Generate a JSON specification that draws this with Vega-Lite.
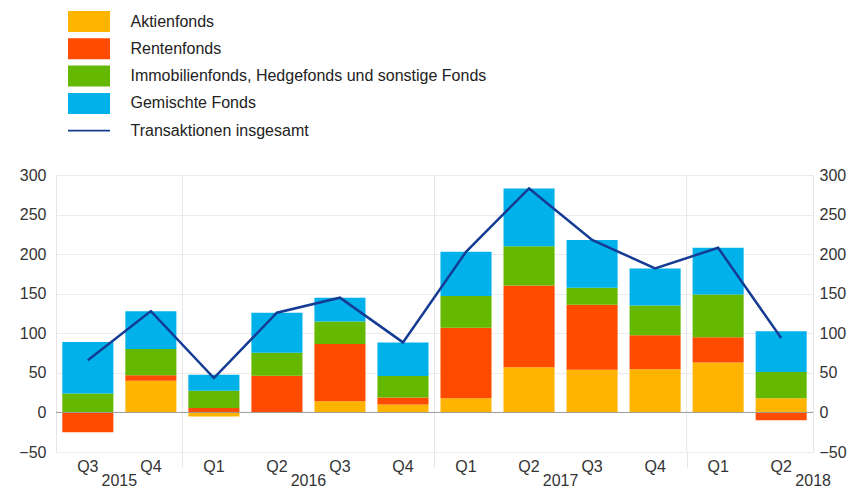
{
  "$schema": "https://vega.github.io/schema/vega-lite/v6.json",
  "width": 757,
  "height": 277,
  "autosize": "none",
  "padding": {"left": 56, "top": 175, "right": 53, "bottom": 39},
  "config": {
    "font": "Liberation Sans",
    "view": {"stroke": "#e4e4e4"},
    "axis": {"labelFontSize": 16, "labelColor": "#333333", "domain": false, "ticks": false, "title": null}
  },
  "datasets": {
    "bars": [
      {"q": "2015 Q3", "cat": "Aktienfonds", "k": 1, "v": 0},
      {"q": "2015 Q3", "cat": "Rentenfonds", "k": 2, "v": -25},
      {"q": "2015 Q3", "cat": "Immobilienfonds, Hedgefonds und sonstige Fonds", "k": 3, "v": 24},
      {"q": "2015 Q3", "cat": "Gemischte Fonds", "k": 4, "v": 65},
      {"q": "2015 Q4", "cat": "Aktienfonds", "k": 1, "v": 40},
      {"q": "2015 Q4", "cat": "Rentenfonds", "k": 2, "v": 7},
      {"q": "2015 Q4", "cat": "Immobilienfonds, Hedgefonds und sonstige Fonds", "k": 3, "v": 33},
      {"q": "2015 Q4", "cat": "Gemischte Fonds", "k": 4, "v": 48},
      {"q": "2016 Q1", "cat": "Aktienfonds", "k": 1, "v": -5},
      {"q": "2016 Q1", "cat": "Rentenfonds", "k": 2, "v": 5.5},
      {"q": "2016 Q1", "cat": "Immobilienfonds, Hedgefonds und sonstige Fonds", "k": 3, "v": 22},
      {"q": "2016 Q1", "cat": "Gemischte Fonds", "k": 4, "v": 20},
      {"q": "2016 Q2", "cat": "Aktienfonds", "k": 1, "v": 0},
      {"q": "2016 Q2", "cat": "Rentenfonds", "k": 2, "v": 46.5},
      {"q": "2016 Q2", "cat": "Immobilienfonds, Hedgefonds und sonstige Fonds", "k": 3, "v": 29},
      {"q": "2016 Q2", "cat": "Gemischte Fonds", "k": 4, "v": 50.5},
      {"q": "2016 Q3", "cat": "Aktienfonds", "k": 1, "v": 14},
      {"q": "2016 Q3", "cat": "Rentenfonds", "k": 2, "v": 72.5},
      {"q": "2016 Q3", "cat": "Immobilienfonds, Hedgefonds und sonstige Fonds", "k": 3, "v": 28.5},
      {"q": "2016 Q3", "cat": "Gemischte Fonds", "k": 4, "v": 30},
      {"q": "2016 Q4", "cat": "Aktienfonds", "k": 1, "v": 10},
      {"q": "2016 Q4", "cat": "Rentenfonds", "k": 2, "v": 9},
      {"q": "2016 Q4", "cat": "Immobilienfonds, Hedgefonds und sonstige Fonds", "k": 3, "v": 27},
      {"q": "2016 Q4", "cat": "Gemischte Fonds", "k": 4, "v": 42.5},
      {"q": "2017 Q1", "cat": "Aktienfonds", "k": 1, "v": 18},
      {"q": "2017 Q1", "cat": "Rentenfonds", "k": 2, "v": 89},
      {"q": "2017 Q1", "cat": "Immobilienfonds, Hedgefonds und sonstige Fonds", "k": 3, "v": 40},
      {"q": "2017 Q1", "cat": "Gemischte Fonds", "k": 4, "v": 56},
      {"q": "2017 Q2", "cat": "Aktienfonds", "k": 1, "v": 57},
      {"q": "2017 Q2", "cat": "Rentenfonds", "k": 2, "v": 103.5},
      {"q": "2017 Q2", "cat": "Immobilienfonds, Hedgefonds und sonstige Fonds", "k": 3, "v": 49.5},
      {"q": "2017 Q2", "cat": "Gemischte Fonds", "k": 4, "v": 73},
      {"q": "2017 Q3", "cat": "Aktienfonds", "k": 1, "v": 54},
      {"q": "2017 Q3", "cat": "Rentenfonds", "k": 2, "v": 82},
      {"q": "2017 Q3", "cat": "Immobilienfonds, Hedgefonds und sonstige Fonds", "k": 3, "v": 21.5},
      {"q": "2017 Q3", "cat": "Gemischte Fonds", "k": 4, "v": 60.5},
      {"q": "2017 Q4", "cat": "Aktienfonds", "k": 1, "v": 54.5},
      {"q": "2017 Q4", "cat": "Rentenfonds", "k": 2, "v": 43},
      {"q": "2017 Q4", "cat": "Immobilienfonds, Hedgefonds und sonstige Fonds", "k": 3, "v": 37.5},
      {"q": "2017 Q4", "cat": "Gemischte Fonds", "k": 4, "v": 47},
      {"q": "2018 Q1", "cat": "Aktienfonds", "k": 1, "v": 63},
      {"q": "2018 Q1", "cat": "Rentenfonds", "k": 2, "v": 32},
      {"q": "2018 Q1", "cat": "Immobilienfonds, Hedgefonds und sonstige Fonds", "k": 3, "v": 54},
      {"q": "2018 Q1", "cat": "Gemischte Fonds", "k": 4, "v": 59},
      {"q": "2018 Q2", "cat": "Aktienfonds", "k": 1, "v": 18},
      {"q": "2018 Q2", "cat": "Rentenfonds", "k": 2, "v": -10},
      {"q": "2018 Q2", "cat": "Immobilienfonds, Hedgefonds und sonstige Fonds", "k": 3, "v": 33},
      {"q": "2018 Q2", "cat": "Gemischte Fonds", "k": 4, "v": 51.5}
    ],
    "totals": [
      {"q": "2015 Q3", "total": 66},
      {"q": "2015 Q4", "total": 128},
      {"q": "2016 Q1", "total": 43.5},
      {"q": "2016 Q2", "total": 126},
      {"q": "2016 Q3", "total": 145},
      {"q": "2016 Q4", "total": 88.5},
      {"q": "2017 Q1", "total": 203},
      {"q": "2017 Q2", "total": 283},
      {"q": "2017 Q3", "total": 218},
      {"q": "2017 Q4", "total": 182},
      {"q": "2018 Q1", "total": 208},
      {"q": "2018 Q2", "total": 94}
    ],
    "years": [
      {"q": "2016 Q1"},
      {"q": "2017 Q1"},
      {"q": "2018 Q1"}
    ]
  },
  "layer": [
    {
      "data": {"name": "bars"},
      "mark": {"type": "bar"},
      "encoding": {
        "x": {
          "field": "q", "type": "ordinal",
          "scale": {
            "domain": ["2015 Q3","2015 Q4","2016 Q1","2016 Q2","2016 Q3","2016 Q4","2017 Q1","2017 Q2","2017 Q3","2017 Q4","2018 Q1","2018 Q2"],
            "paddingInner": 0.19, "paddingOuter": 0.1
          },
          "axis": {
            "orient": "bottom",
            "labelExpr": "substring(datum.value, 5)",
            "labelAngle": 0,
            "labelPadding": 6
          }
        },
        "y": {
          "field": "v", "type": "quantitative", "stack": "zero",
          "scale": {"domain": [-50, 300], "nice": false},
          "axis": {"orient": "left", "values": [-50, 0, 50, 100, 150, 200, 250, 300], "grid": true, "gridColor": "#ebebeb", "labelPadding": 10}
        },
        "color": {
          "field": "cat", "type": "nominal",
          "scale": {
            "domain": ["Aktienfonds", "Rentenfonds", "Immobilienfonds, Hedgefonds und sonstige Fonds", "Gemischte Fonds", "Transaktionen insgesamt"],
            "range": ["#FFB400", "#FF4B00", "#65B800", "#00B1EA", "#153C94"]
          },
          "legend": {
            "title": null,
            "orient": "none",
            "legendX": 22.5,
            "legendY": -164,
            "padding": 0,
            "symbolType": "M-2,-1H2V1H-2Z",
            "symbolSize": 441,
            "symbolStrokeWidth": 0,
            "labelFontSize": 16,
            "labelLimit": 0,
            "labelColor": "#222222",
            "labelOffset": 31,
            "rowPadding": 6.3,
            "encode": {
              "symbols": {
                "update": {
                  "shape": {"signal": "datum.label === 'Transaktionen insgesamt' ? 'M-2,-0.08H2V0.08H-2Z' : 'M-2,-1H2V1H-2Z'"},
                  "fill": {"scale": "color", "field": "value"},
                  "strokeWidth": {"value": 0}
                }
              }
            }
          }
        },
        "order": {"field": "k", "type": "quantitative"}
      }
    },
    {
      "data": {"name": "years"},
      "mark": {"type": "rule", "color": "#e6e6e6", "strokeWidth": 1, "xOffset": -6},
      "encoding": {
        "x": {
          "field": "q", "type": "ordinal", "bandPosition": 0,
          "axis": {
            "orient": "bottom",
            "values": ["2016 Q1", "2017 Q1", "2018 Q1"],
            "labels": false,
            "ticks": true,
            "tickSize": 15,
            "tickColor": "#e6e6e6",
            "bandPosition": 0,
            "tickOffset": -6
          }
        },
        "y": {"datum": 300, "type": "quantitative", "axis": null},
        "y2": {"datum": -50}
      }
    },
    {
      "data": {"values": [{"z": 0}]},
      "mark": {"type": "rule", "color": "#9a9a9a", "strokeWidth": 1},
      "encoding": {"y": {"field": "z", "type": "quantitative", "axis": null}}
    },
    {
      "data": {"name": "totals"},
      "mark": {"type": "line", "strokeWidth": 2.5},
      "encoding": {
        "x": {
          "field": "q", "type": "ordinal",
          "axis": {
            "orient": "bottom",
            "values": ["2015 Q4", "2016 Q3", "2017 Q3", "2018 Q2"],
            "labelExpr": "substring(datum.value, 0, 4)",
            "labelAngle": 0,
            "labelOffset": {"condition": {"test": "datum.value === '2018 Q2'", "value": 32}, "value": -31.5},
            "labelPadding": 20
          }
        },
        "y": {
          "field": "total", "type": "quantitative",
          "axis": {"orient": "right", "values": [-50, 0, 50, 100, 150, 200, 250, 300], "grid": false, "labelPadding": 6}
        },
        "color": {"datum": "Transaktionen insgesamt"}
      }
    }
  ],
  "resolve": {"axis": {"x": "independent", "y": "independent"}}
}
